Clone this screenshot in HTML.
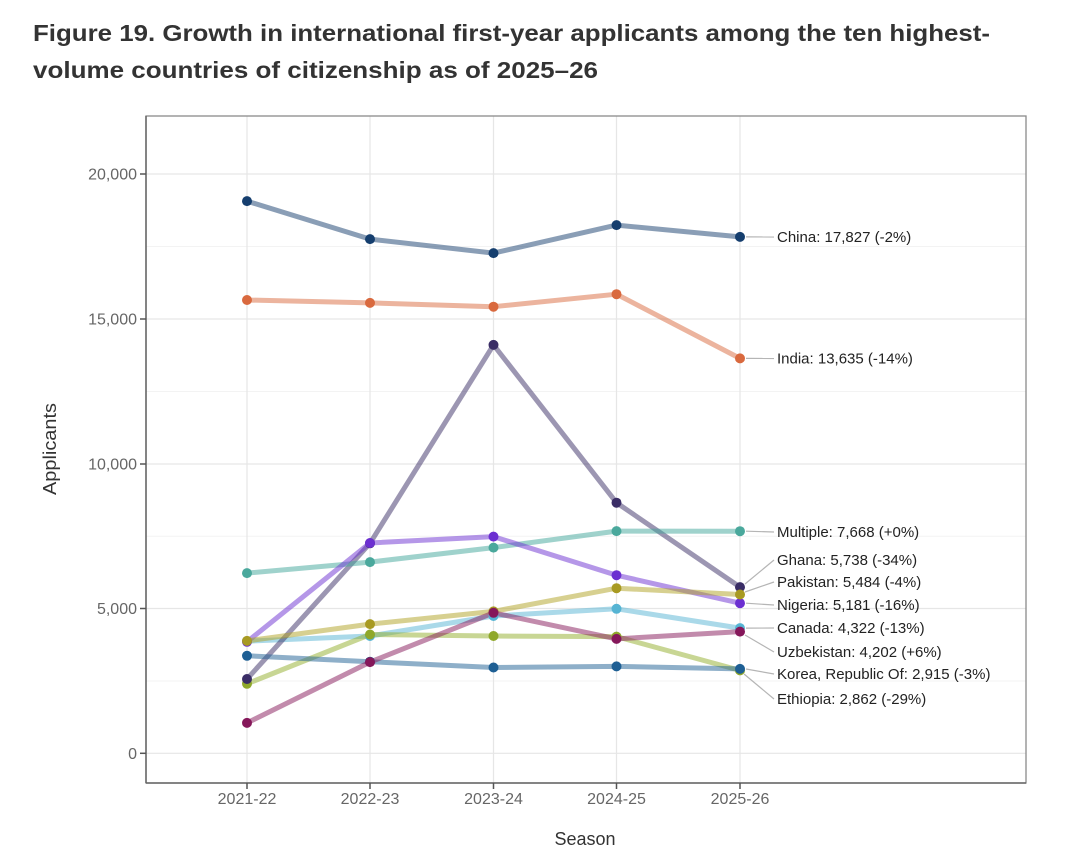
<!DOCTYPE html>
<html><head><meta charset="utf-8"><style>
html,body{margin:0;padding:0;background:#fff;}
svg{display:block;}
</style></head><body>
<svg width="1080" height="863" viewBox="0 0 1080 863" xmlns="http://www.w3.org/2000/svg" font-family="Liberation Sans, Arial, sans-serif">
<rect width="1080" height="863" fill="#fff"/>
<!-- Title -->
<text x="33" y="41" font-size="23" font-weight="bold" fill="#333" textLength="957" lengthAdjust="spacingAndGlyphs">Figure 19. Growth in international first-year applicants among the ten highest-</text>
<text x="33" y="78" font-size="23" font-weight="bold" fill="#333" textLength="565" lengthAdjust="spacingAndGlyphs">volume countries of citizenship as of 2025–26</text>

<!-- grid minor -->
<g stroke="#f3f3f3" stroke-width="1">
<line x1="146" x2="1026" y1="246.5" y2="246.5"/>
<line x1="146" x2="1026" y1="391.5" y2="391.5"/>
<line x1="146" x2="1026" y1="536.3" y2="536.3"/>
<line x1="146" x2="1026" y1="681" y2="681"/>
</g>
<!-- grid major -->
<g stroke="#e6e6e6" stroke-width="1.2">
<line x1="146" x2="1026" y1="174" y2="174"/>
<line x1="146" x2="1026" y1="319" y2="319"/>
<line x1="146" x2="1026" y1="464" y2="464"/>
<line x1="146" x2="1026" y1="608.5" y2="608.5"/>
<line x1="146" x2="1026" y1="753.3" y2="753.3"/>
<line x1="247" x2="247" y1="116" y2="783"/>
<line x1="370" x2="370" y1="116" y2="783"/>
<line x1="493.5" x2="493.5" y1="116" y2="783"/>
<line x1="616.5" x2="616.5" y1="116" y2="783"/>
<line x1="740" x2="740" y1="116" y2="783"/>
</g>
<!-- panel border -->
<rect x="146" y="116" width="880" height="667" fill="none" stroke="#8a8a8a" stroke-width="1.3"/>
<line x1="146" y1="116" x2="146" y2="783" stroke="#666" stroke-width="1.5"/>
<line x1="146" y1="783" x2="1026" y2="783" stroke="#666" stroke-width="1.5"/>

<!-- ticks -->
<g stroke="#555" stroke-width="1.5">
<line x1="140" x2="146" y1="174" y2="174"/>
<line x1="140" x2="146" y1="319" y2="319"/>
<line x1="140" x2="146" y1="464" y2="464"/>
<line x1="140" x2="146" y1="608.5" y2="608.5"/>
<line x1="140" x2="146" y1="753.3" y2="753.3"/>
<line x1="247" x2="247" y1="783" y2="789"/>
<line x1="370" x2="370" y1="783" y2="789"/>
<line x1="493.5" x2="493.5" y1="783" y2="789"/>
<line x1="616.5" x2="616.5" y1="783" y2="789"/>
<line x1="740" x2="740" y1="783" y2="789"/>
</g>
<g font-size="16" fill="#666" text-anchor="end">
<text x="137" y="179.5">20,000</text>
<text x="137" y="324.5">15,000</text>
<text x="137" y="469.5">10,000</text>
<text x="137" y="614">5,000</text>
<text x="137" y="759">0</text>
</g>
<g font-size="16" fill="#666" text-anchor="middle">
<text x="247" y="804">2021-22</text>
<text x="370" y="804">2022-23</text>
<text x="493.5" y="804">2023-24</text>
<text x="616.5" y="804">2024-25</text>
<text x="740" y="804">2025-26</text>
</g>
<text x="585" y="845" font-size="18" fill="#333" text-anchor="middle">Season</text>
<text transform="translate(56,449) rotate(-90)" font-size="18" fill="#333" text-anchor="middle" textLength="92" lengthAdjust="spacingAndGlyphs">Applicants</text>

<!-- lines -->
<g fill="none" stroke-width="5" stroke-opacity="0.5" stroke-linejoin="round" stroke-linecap="round">
<polyline stroke="#56b4d3" points="247,641.2 370,636 493.5,616 616.5,608.8 740,628.1"/>
<polyline stroke="#153e6e" points="247,201.1 370,239.1 493.5,253.1 616.5,225.1 740,236.9"/>
<polyline stroke="#92ad2a" points="247,683.8 370,634.5 493.5,636 616.5,636.6 740,670.4"/>
<polyline stroke="#3a2d66" points="247,679 370,543.3 493.5,344.9 616.5,502.7 740,587.1"/>
<polyline stroke="#d9693e" points="247,300 370,302.9 493.5,306.7 616.5,294.2 740,358.4"/>
<polyline stroke="#1e5f94" points="247,655.8 370,661.7 493.5,667.5 616.5,666.4 740,668.9"/>
<polyline stroke="#3fa69a" points="247,573.1 370,562.1 493.5,547.6 616.5,531.1 740,531.2"/>
<polyline stroke="#6c2fd1" points="247,641.8 370,543 493.5,536.6 616.5,575.2 740,603.2"/>
<polyline stroke="#b0a222" points="247,640.9 370,624.1 493.5,611.4 616.5,588.2 740,594.5"/>
<polyline stroke="#85175a" points="247,722.9 370,662.1 493.5,612.8 616.5,638.9 740,631.6"/>
</g>
<!-- points -->
<g>
<g fill="#56b4d3"><circle cx="247" cy="641.2" r="5"/><circle cx="370" cy="636" r="5"/><circle cx="493.5" cy="616" r="5"/><circle cx="616.5" cy="608.8" r="5"/><circle cx="740" cy="628.1" r="5"/></g>
<g fill="#153e6e"><circle cx="247" cy="201.1" r="5"/><circle cx="370" cy="239.1" r="5"/><circle cx="493.5" cy="253.1" r="5"/><circle cx="616.5" cy="225.1" r="5"/><circle cx="740" cy="236.9" r="5"/></g>
<g fill="#8fa82a"><circle cx="247" cy="683.8" r="5"/><circle cx="370" cy="634.5" r="5"/><circle cx="493.5" cy="636" r="5"/><circle cx="616.5" cy="636.6" r="5"/><circle cx="740" cy="670.4" r="5"/></g>
<g fill="#3a2d66"><circle cx="247" cy="679" r="5"/><circle cx="370" cy="543.3" r="5"/><circle cx="493.5" cy="344.9" r="5"/><circle cx="616.5" cy="502.7" r="5"/><circle cx="740" cy="587.1" r="5"/></g>
<g fill="#d9693e"><circle cx="247" cy="300" r="5"/><circle cx="370" cy="302.9" r="5"/><circle cx="493.5" cy="306.7" r="5"/><circle cx="616.5" cy="294.2" r="5"/><circle cx="740" cy="358.4" r="5"/></g>
<g fill="#1e5f94"><circle cx="247" cy="655.8" r="5"/><circle cx="370" cy="661.7" r="5"/><circle cx="493.5" cy="667.5" r="5"/><circle cx="616.5" cy="666.4" r="5"/><circle cx="740" cy="668.9" r="5"/></g>
<g fill="#4aa89c"><circle cx="247" cy="573.1" r="5"/><circle cx="370" cy="562.1" r="5"/><circle cx="493.5" cy="547.6" r="5"/><circle cx="616.5" cy="531.1" r="5"/><circle cx="740" cy="531.2" r="5"/></g>
<g fill="#6c2fd1"><circle cx="247" cy="641.8" r="5"/><circle cx="370" cy="543" r="5"/><circle cx="493.5" cy="536.6" r="5"/><circle cx="616.5" cy="575.2" r="5"/><circle cx="740" cy="603.2" r="5"/></g>
<g fill="#a89a22"><circle cx="247" cy="640.9" r="5"/><circle cx="370" cy="624.1" r="5"/><circle cx="493.5" cy="611.4" r="5"/><circle cx="616.5" cy="588.2" r="5"/><circle cx="740" cy="594.5" r="5"/></g>
<g fill="#85175a"><circle cx="247" cy="722.9" r="5"/><circle cx="370" cy="662.1" r="5"/><circle cx="493.5" cy="612.8" r="5"/><circle cx="616.5" cy="638.9" r="5"/><circle cx="740" cy="631.6" r="5"/></g>
</g>

<!-- leader lines -->
<g stroke="#b5b5b5" stroke-width="1.2" fill="none">
<line x1="746" y1="236.9" x2="774" y2="237"/>
<line x1="746" y1="358.4" x2="774" y2="358.5"/>
<line x1="746" y1="531.2" x2="774" y2="532"/>
<line x1="745" y1="584" x2="774" y2="560"/>
<line x1="745" y1="592" x2="774" y2="582"/>
<line x1="746" y1="603.2" x2="774" y2="605"/>
<line x1="746" y1="628.1" x2="774" y2="628"/>
<line x1="745" y1="635" x2="774" y2="652"/>
<line x1="746" y1="669" x2="774" y2="674"/>
<line x1="744" y1="674" x2="774" y2="699"/>
</g>
<g font-size="15" fill="#222">
<text x="777" y="242">China: 17,827 (-2%)</text>
<text x="777" y="363.5">India: 13,635 (-14%)</text>
<text x="777" y="537">Multiple: 7,668 (+0%)</text>
<text x="777" y="565">Ghana: 5,738 (-34%)</text>
<text x="777" y="587">Pakistan: 5,484 (-4%)</text>
<text x="777" y="610">Nigeria: 5,181 (-16%)</text>
<text x="777" y="633">Canada: 4,322 (-13%)</text>
<text x="777" y="657">Uzbekistan: 4,202 (+6%)</text>
<text x="777" y="679">Korea, Republic Of: 2,915 (-3%)</text>
<text x="777" y="704">Ethiopia: 2,862 (-29%)</text>
</g>
</svg>
</body></html>
